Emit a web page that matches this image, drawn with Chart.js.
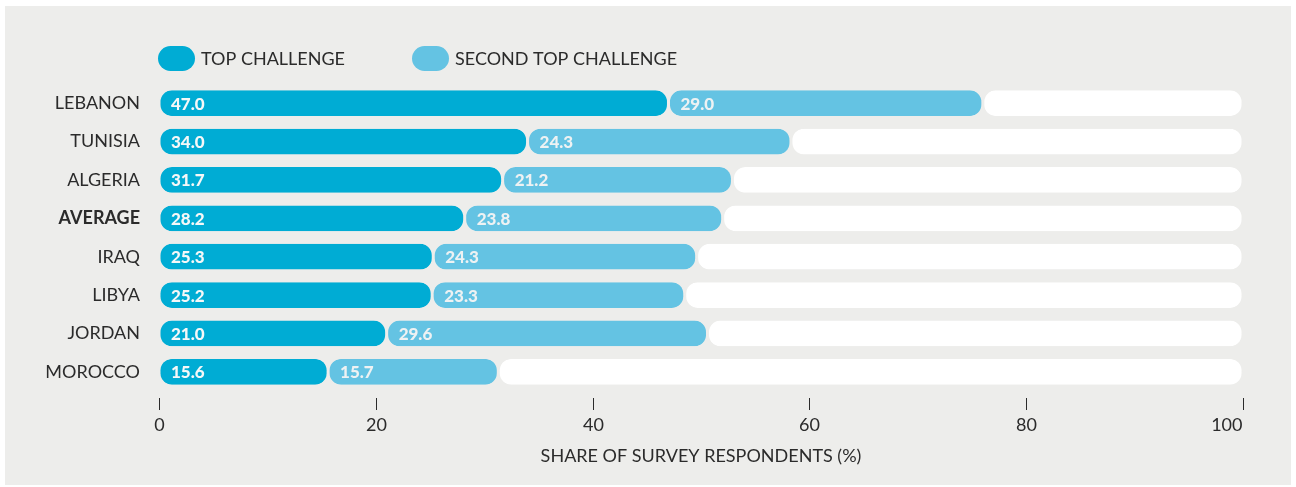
<!DOCTYPE html>
<html>
<head>
<meta charset="utf-8">
<script src="https://cdn.jsdelivr.net/npm/chart.js@4.4.1/dist/chart.umd.min.js"></script>
<style>
	html, body { margin: 0; padding: 0; background: #ffffff; }
	#panel { position: absolute; left: 5px; top: 6px; width: 1286px; height: 479px; background: #ededeb; }
</style>
</head>
<body>
<div id="panel"><canvas id="bar-chart"></canvas></div>
<script>
// Chart data
const countries = ['LEBANON', 'TUNISIA', 'ALGERIA', 'AVERAGE', 'IRAQ', 'LIBYA', 'JORDAN', 'MOROCCO'];
const topChallenge = [47.0, 34.0, 31.7, 28.2, 25.3, 25.2, 21.0, 15.6];
const secondChallenge = [29.0, 24.3, 21.2, 23.8, 24.3, 23.3, 29.6, 15.7];
const remainder = [24.0, 41.7, 47.1, 48.0, 50.4, 51.5, 49.4, 68.7];
const seriesNames = ['TOP CHALLENGE', 'SECOND TOP CHALLENGE'];
const xTicks = [0, 20, 40, 60, 80, 100];
const xTitle = 'SHARE OF SURVEY RESPONDENTS (%)';

const FONT = 'Lato, sans-serif';
const PANEL = '#ededeb';
const TEXT = '#2b2b2b';
const COLORS = ['#00acd4', '#64c3e3', '#ffffff'];

Chart.defaults.font.family = FONT;

/**
 * Draws value labels, x tick marks + labels and the legend
 */
const decorations = {
	id: 'decorations',
	afterDatasetsDraw(chart) {
		const ctx = chart.ctx;
		const area = chart.chartArea;
		const xScale = chart.scales.x;

		ctx.save();

		// value labels inside bars
		ctx.font = `900 17px ${FONT}`;
		ctx.textBaseline = 'middle';
		ctx.textAlign = 'left';
		[0, 1].forEach(di => {
			ctx.fillStyle = di === 0 ? '#f6f8f8' : '#eef2f3';
			chart.getDatasetMeta(di).data.forEach((bar, i) => {
				const v = chart.data.datasets[di].data[i];
				ctx.fillText(v.toFixed(1), bar.base + 12, bar.y + 1);
			});
		});

		// x tick marks and labels
		ctx.strokeStyle = TEXT;
		ctx.lineWidth = 1;
		ctx.fillStyle = TEXT;
		ctx.font = `18px ${FONT}`;
		xTicks.forEach((t, i) => {
			const px = Math.round(xScale.getPixelForValue(t)) + 0.5;
			ctx.beginPath();
			ctx.moveTo(px, area.bottom + 7);
			ctx.lineTo(px, area.bottom + 19);
			ctx.stroke();
			const last = i === xTicks.length - 1;
			ctx.textAlign = last ? 'right' : 'center';
			ctx.fillText(String(t), last ? px - 1 : px, area.bottom + 34);
		});

		// legend
		const legendX = [area.left - 1, area.left + 253];
		seriesNames.forEach((name, i) => {
			ctx.fillStyle = COLORS[i];
			ctx.beginPath();
			ctx.roundRect(legendX[i], 40, 37, 25, 12.5);
			ctx.fill();
			ctx.fillStyle = TEXT;
			ctx.textAlign = 'left';
			ctx.fillText(name, legendX[i] + 43, 53);
		});

		ctx.restore();
	}
};

function initChart() {
	const ctx = document.getElementById('bar-chart').getContext('2d');

	const barStyle = {
		borderSkipped: false,
		borderRadius: { topLeft: 13, topRight: 13, bottomLeft: 13, bottomRight: 13 },
		borderWidth: { left: 1.5, right: 1.5, top: 0, bottom: 0 },
		borderColor: PANEL,
		categoryPercentage: 0.8,
		barPercentage: 0.84,
	};

	new Chart(ctx, {
		type: 'bar',
		data: {
			labels: countries,
			datasets: [
				{ label: seriesNames[0], data: topChallenge, backgroundColor: COLORS[0], ...barStyle },
				{ label: seriesNames[1], data: secondChallenge, backgroundColor: COLORS[1], ...barStyle },
				{ label: 'REST', data: remainder, backgroundColor: COLORS[2], ...barStyle },
			]
		},
		options: {
			indexAxis: 'y',
			responsive: true,
			maintainAspectRatio: false,
			animation: false,
			layout: { padding: { top: 78, right: 48, bottom: 0, left: 0 } },
			scales: {
				x: {
					stacked: true,
					min: 0,
					max: 100,
					grid: { display: false },
					border: { display: false },
					ticks: { display: false, stepSize: 20 },
					title: {
						display: true,
						text: xTitle,
						color: TEXT,
						font: { size: 18 },
						padding: { top: 0, bottom: 18 }
					},
					afterFit(scale) { scale.height = 94; }
				},
				y: {
					stacked: true,
					grid: { display: false },
					border: { display: false },
					ticks: {
						color: TEXT,
						padding: 11,
						font: (c) => ({ family: FONT, size: 18, weight: c.index === 3 ? 'bold' : 'normal' })
					},
					afterFit(scale) { scale.width = 154; }
				}
			},
			plugins: {
				legend: { display: false },
				tooltip: { enabled: false }
			}
		},
		plugins: [decorations]
	});
}

document.addEventListener('DOMContentLoaded', initChart);
</script>
</body>
</html>
